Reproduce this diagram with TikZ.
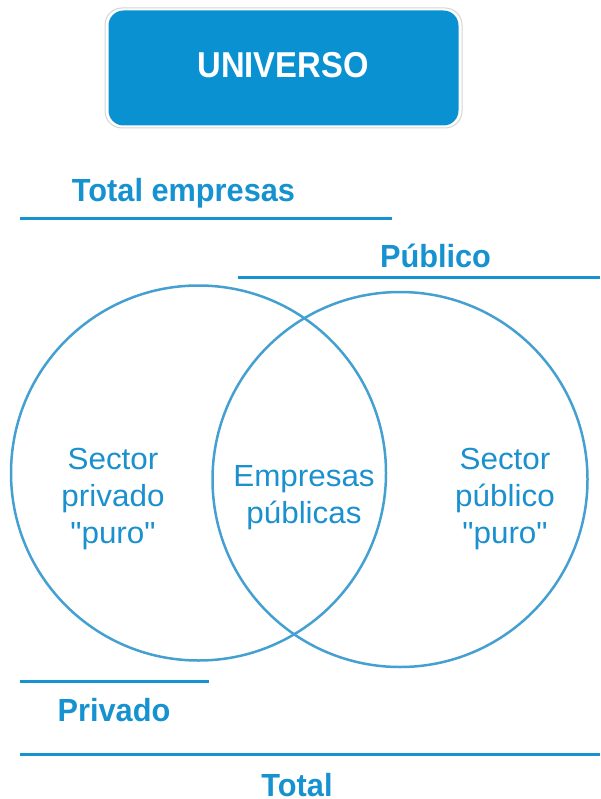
\documentclass[tikz,border=0pt]{standalone}
\usepackage{fontspec}
\setmainfont{Liberation Sans}
\newfontfamily\bodyfont[FakeStretch=1.03]{Liberation Sans}
\newfontfamily\headfont[FakeStretch=0.96]{Liberation Sans Bold}
\newfontfamily\titlefont[FakeStretch=0.91]{Liberation Sans Bold}
\definecolor{boxblue}{HTML}{0A91D2}
\definecolor{headblue}{HTML}{1592CF}
\definecolor{circblue}{HTML}{45A0D2}
\definecolor{txtblue}{HTML}{1A90CE}
\definecolor{boxgray}{HTML}{D4D4D4}
\tikzset{
  head/.style={font=\headfont\fontsize{32}{38}\selectfont, text=headblue, inner sep=0pt, anchor=base},
  rule/.style={draw=headblue, line width=3pt},
  venn/.style={draw=circblue, line width=2.5pt},
  intext/.style={font=\bodyfont\fontsize{30.5}{37}\selectfont, text=txtblue, align=center, inner sep=0pt, anchor=base},
}
\begin{document}
\begin{tikzpicture}[x=1pt,y=-1pt]
\useasboundingbox (0,0) rectangle (600,799);
% title box
\draw[boxgray, line width=1pt, rounded corners=17pt] (105,8) rectangle (462,128);
\node[fill=boxblue, rounded corners=15pt, minimum width=350pt, minimum height=115pt, inner sep=0pt] (uni) at (283.5,68) {};
\node[font=\titlefont\fontsize{36}{40}\selectfont, text=white, anchor=base, inner sep=0pt] (unitxt) at (283,78) {UNIVERSO};
% headings and rules
\node[head] (total) at (183.5,202) {Total empresas};
\coordinate (r1a) at (20,218.5); \coordinate (r1b) at (392,218.5);
\draw[rule] (r1a) -- (r1b);
\node[head] (pub) at (435.5,267) {Público};
\coordinate (r2a) at (238,277); \coordinate (r2b) at (600,277);
\draw[rule] (r2a) -- (r2b);
\coordinate (r3a) at (20,681); \coordinate (r3b) at (209,681);
\draw[rule] (r3a) -- (r3b);
\node[head] (priv) at (114,721) {Privado};
\coordinate (r4a) at (20,754); \coordinate (r4b) at (600,754);
\draw[rule] (r4a) -- (r4b);
\node[head] (tot) at (297,796) {Total};
% circles
\node[venn, circle, minimum size=375pt, inner sep=0pt] (cl) at (198.5,473) {};
\node[venn, circle, minimum size=375pt, inner sep=0pt] (cr) at (400,479.5) {};
% circle texts
\node[intext] (tl) at (113,543) {Sector\\privado\\\char34 puro\char34};
\node[intext] (tm) at (304,523) {Empresas\\públicas};
\node[intext] (tr) at (505,543) {Sector\\público\\\char34 puro\char34};
\end{tikzpicture}
\end{document}
